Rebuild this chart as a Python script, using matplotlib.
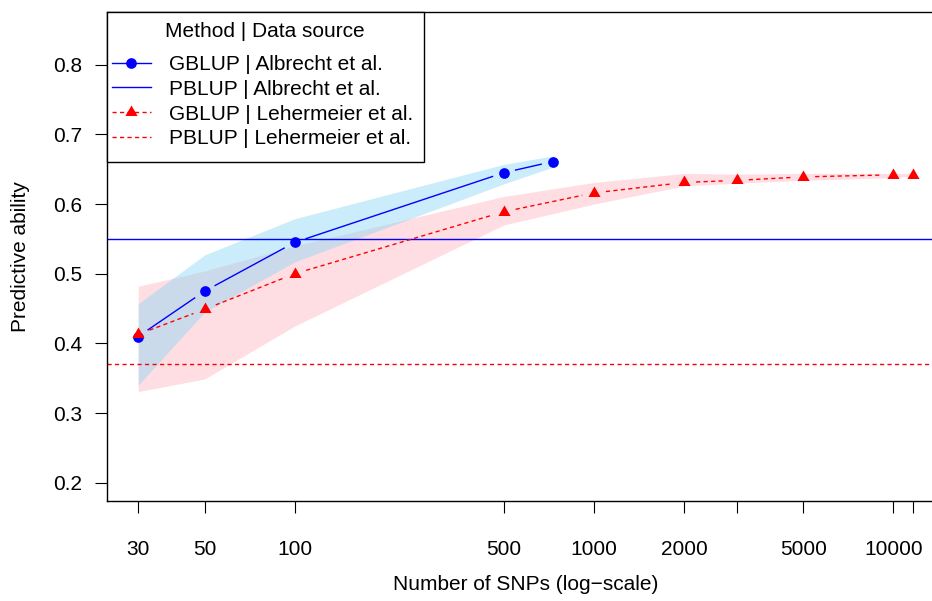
import numpy as np
import matplotlib
matplotlib.use("Agg")
import matplotlib.pyplot as plt
from matplotlib.patches import Rectangle
from matplotlib.lines import Line2D
from matplotlib.path import Path

# ---- data -------------------------------------------------------------
snps_albrecht = [30, 50, 100, 500, 729]
gblup_albrecht = [0.410, 0.475, 0.545, 0.645, 0.661]
albrecht_lo = [0.340, 0.445, 0.517, 0.629, 0.653]
albrecht_hi = [0.457, 0.527, 0.579, 0.657, 0.669]
pblup_albrecht = 0.55

snps_lehermeier = [30, 50, 100, 500, 1000, 2000, 3000, 5000, 10000, 11646]
gblup_lehermeier = [0.413, 0.449, 0.500, 0.589, 0.616, 0.631, 0.634, 0.639, 0.642, 0.642]
lehermeier_lo = [0.331, 0.349, 0.425, 0.570, 0.600, 0.626, 0.630, 0.634, 0.638, 0.640]
lehermeier_hi = [0.482, 0.504, 0.540, 0.611, 0.631, 0.644, 0.643, 0.644, 0.644, 0.644]
pblup_lehermeier = 0.37

x_ticks = [30, 50, 100, 500, 1000, 2000, 3000, 5000, 10000, 11646]
x_ticklabels = ["30", "50", "100", "500", "1000", "2000", "", "5000", "10000", ""]
y_ticks = [0.2, 0.3, 0.4, 0.5, 0.6, 0.7, 0.8]
y_ticklabels = ["0.2", "0.3", "0.4", "0.5", "0.6", "0.7", "0.8"]

legend_title = "Method | Data source"
legend_labels = ["GBLUP | Albrecht et al.", "PBLUP | Albrecht et al.",
                 "GBLUP | Lehermeier et al.", "PBLUP | Lehermeier et al."]

# ---- style ------------------------------------------------------------
plt.rcParams["font.family"] = ["Liberation Sans", "DejaVu Sans"]
plt.rcParams["lines.scale_dashes"] = False
FS = 15.0
BLUE = "#0000FF"
RED = "#FF0000"
BAND_BLUE = (125 / 255, 212 / 255, 245 / 255, 0.40)
BAND_PINK = (255 / 255, 192 / 255, 203 / 255, 0.52)
DASH = (0, (3.0, 2.4))

W, H = 932, 601
fig = plt.figure(figsize=(W / 100, H / 100), dpi=100)


def fx(px):
    return px / W


def fy(py):
    return 1 - py / H


# plot region in pixels (right edge runs past the canvas)
left_px, right_px, top_px, bottom_px = 107.2, 944.1, 11.7, 501.0
ax = fig.add_axes([fx(left_px), fy(bottom_px),
                   (right_px - left_px) / W, (bottom_px - top_px) / H])
ax.set_xscale("log")
ax.set_xlim(10 ** 1.3736, 10 ** 4.1698)
ax.set_ylim(0.174, 0.876)

# confidence bands
ax.fill_between(snps_lehermeier, lehermeier_lo, lehermeier_hi,
                color=BAND_PINK, linewidth=0, zorder=1)
ax.fill_between(snps_albrecht, albrecht_lo, albrecht_hi,
                color=BAND_BLUE, linewidth=0, zorder=1.1)

# PBLUP reference levels
ax.axhline(pblup_albrecht, color=BLUE, lw=1.0, zorder=2)
ax.axhline(pblup_lehermeier, color=RED, lw=1.0, linestyle=DASH, zorder=2)


def gapped_line(xs, ys, gap_px, **kw):
    """Connect points with segments that stop short of each marker."""
    pts = ax.transData.transform(np.column_stack([xs, ys]))
    inv = ax.transData.inverted()
    for p, q in zip(pts[:-1], pts[1:]):
        d = q - p
        length = np.hypot(*d)
        if length <= 2 * gap_px:
            continue
        u = d / length
        a = inv.transform(p + u * gap_px)
        b = inv.transform(q - u * gap_px)
        ax.plot([a[0], b[0]], [a[1], b[1]], **kw)


tri = Path([(0, 1), (-0.866, -0.5), (0.866, -0.5), (0, 1)],
           [Path.MOVETO, Path.LINETO, Path.LINETO, Path.CLOSEPOLY])

gapped_line(snps_albrecht, gblup_albrecht, 12, color=BLUE, lw=1.0, zorder=3)
gapped_line(snps_lehermeier, gblup_lehermeier, 12, color=RED, lw=1.0,
            linestyle=DASH, zorder=3)
ax.plot(snps_albrecht, gblup_albrecht, linestyle="none", marker="o",
        ms=7.7, color=BLUE, mec="none", zorder=4)
ax.plot(snps_lehermeier, gblup_lehermeier, linestyle="none", marker=tri,
        ms=10.1, color=RED, mec="none", zorder=5)

# axes, ticks and labels
for side in ["top", "bottom", "left"]:
    ax.spines[side].set_linewidth(1.0)
    ax.spines[side].set_color("black")
ax.spines["right"].set_visible(False)
ax.set_xticks(x_ticks)
ax.set_xticklabels(x_ticklabels)
ax.xaxis.set_minor_locator(matplotlib.ticker.NullLocator())
ax.set_yticks(y_ticks)
ax.set_yticklabels(y_ticklabels)
ax.tick_params(axis="both", direction="out", length=8.6, width=0.8,
               labelsize=FS, color="black")
ax.tick_params(axis="x", pad=19.5)
ax.tick_params(axis="y", pad=9.5)

ax.set_xlabel("Number of SNPs (log\u2212scale)", fontsize=FS)
ax.xaxis.set_label_coords(0.5, (bottom_px - 585) / (bottom_px - top_px))
ax.xaxis.label.set_va("center")
ax.set_ylabel("Predictive ability", fontsize=FS)
ax.yaxis.set_label_coords((20 - left_px) / (right_px - left_px), 0.5)
ax.yaxis.label.set_va("center")

# legend box drawn in pixel coordinates
lg_left, lg_right, lg_top, lg_bottom = 106.7, 424.0, 11.7, 162.0
fig.add_artist(Rectangle((fx(lg_left), fy(lg_bottom)),
                         (lg_right - lg_left) / W, (lg_bottom - lg_top) / H,
                         transform=fig.transFigure, facecolor="white",
                         edgecolor="black", lw=1.0, zorder=10))
cap = 0.716 * FS * 100 / 72
fig.text(fx(264.5), fy(29.3 + cap / 2), legend_title, fontsize=FS,
         ha="center", va="baseline", zorder=11)
rows = [62.7, 87.3, 112.3, 136.7]
handle_styles = [
    dict(color=BLUE, lw=1.0, ls="-", marker="o", ms=7.7),
    dict(color=BLUE, lw=1.0, ls="-", marker=None, ms=0),
    dict(color=RED, lw=1.0, ls=DASH, marker=tri, ms=10.1),
    dict(color=RED, lw=1.0, ls=DASH, marker=None, ms=0),
]
for ry, label, st in zip(rows, legend_labels, handle_styles):
    fig.add_artist(Line2D([fx(111.7), fx(150.7)], [fy(ry), fy(ry)],
                          transform=fig.transFigure, color=st["color"],
                          lw=st["lw"], linestyle=st["ls"], zorder=11))
    if st["marker"] is not None:
        fig.add_artist(Line2D([fx(131.2)], [fy(ry)], transform=fig.transFigure,
                              color=st["color"], marker=st["marker"],
                              ms=st["ms"], mec="none", linestyle="none",
                              zorder=12))
    fig.text(fx(169.3), fy(ry + cap / 2), label, fontsize=FS,
             ha="left", va="baseline", zorder=11)

fig.savefig("out.png", dpi=100)
